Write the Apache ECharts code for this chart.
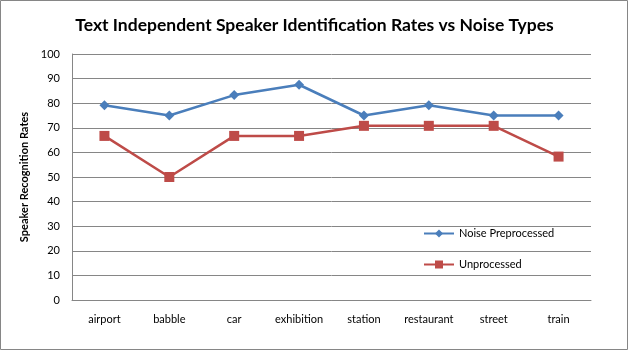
<!DOCTYPE html>
<html><head><meta charset="utf-8">
<script src="https://cdn.jsdelivr.net/npm/echarts@6/dist/echarts.min.js"></script>
<style>html,body{margin:0;padding:0;background:#fff}#c{width:629px;height:351px}</style>
</head><body><div id="c"></div>
<script>
const categories = ['airport','babble','car','exhibition','station','restaurant','street','train'];
const noisePreprocessed = [79.2, 75, 83.3, 87.5, 75, 79.2, 75, 75];
const unprocessed = [66.7, 50, 66.7, 66.7, 70.8, 70.8, 70.8, 58.3];
const yTicks = {min: 0, max: 100, interval: 10};

const chart = echarts.init(document.getElementById('c'), null, {renderer: 'canvas'});
const font = 'Lato, "Open Sans", sans-serif';
chart.setOption({
  animation: false,
  backgroundColor: '#fff',
  graphic: [{type: 'rect', shape: {x: 0.5, y: 0.5, width: 627, height: 349}, style: {fill: 'none', stroke: '#868686', lineWidth: 1}}],
  title: {text: 'Text Independent Speaker Identification Rates vs Noise Types', left: 'center', top: 11,
    textStyle: {fontFamily: font, fontSize: 17.5, fontWeight: 'bold', color: '#000'}},
  grid: {left: 72, right: 38, top: 54, bottom: 51},
  legend: {orient: 'vertical', left: 418, top: 223, itemGap: 20, itemWidth: 30, itemHeight: 10,
    textStyle: {fontFamily: font, fontSize: 11, color: '#000'},
    data: ['Noise Preprocessed', 'Unprocessed']},
  xAxis: {type: 'category', data: categories, boundaryGap: true,
    axisLine: {lineStyle: {color: '#868686'}}, axisTick: {show: false},
    axisLabel: {fontFamily: font, fontSize: 11, color: '#000', margin: 14}},
  yAxis: {type: 'value', min: yTicks.min, max: yTicks.max, interval: yTicks.interval,
    name: 'Speaker Recognition Rates', nameLocation: 'middle', nameGap: 42, nameRotate: 90,
    nameTextStyle: {fontFamily: font, fontSize: 11, fontWeight: 'bold', color: '#000'},
    axisLine: {show: true, lineStyle: {color: '#868686'}}, axisTick: {show: false},
    splitLine: {lineStyle: {color: '#868686'}},
    axisLabel: {fontFamily: font, fontSize: 11, color: '#000', margin: 12}},
  series: [
    {name: 'Noise Preprocessed', type: 'line', data: noisePreprocessed, symbol: 'diamond', symbolSize: 10,
     itemStyle: {color: '#4a7ebb'}, lineStyle: {color: '#4a7ebb', width: 2.5}},
    {name: 'Unprocessed', type: 'line', data: unprocessed, symbol: 'rect', symbolSize: 10,
     itemStyle: {color: '#be4b48'}, lineStyle: {color: '#be4b48', width: 2.5}}
  ]
});
</script></body></html>
